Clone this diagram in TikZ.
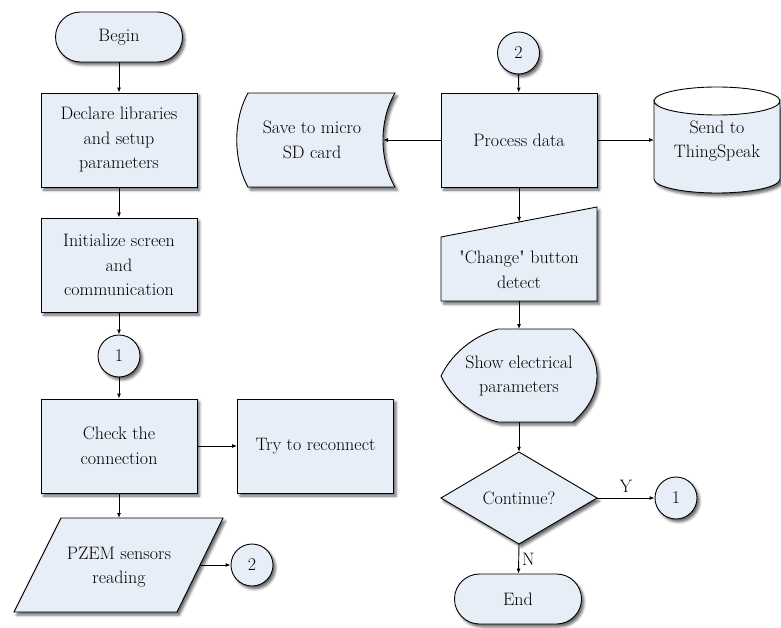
\documentclass[tikz,border=0pt]{standalone}
\usetikzlibrary{arrows.meta,shadows.blur}
\definecolor{boxfill}{RGB}{232,238,247}
\begin{document}
\begin{tikzpicture}[x=1pt,y=-1pt,
  every node/.style={font=\fontsize{18}{24.5}\selectfont, align=center, text=black},
  shp/.style={draw=black, line width=0.9pt, fill=boxfill,
    blur shadow={shadow xshift=2.5pt, shadow yshift=-3pt, shadow blur radius=2.5pt, shadow opacity=60}},
  procbox/.style={shp, rectangle, minimum width=156pt, minimum height=94pt, inner sep=2pt},
  termbox/.style={shp, rectangle, rounded corners=25pt, minimum width=127pt, minimum height=50pt},
  conn/.style={shp, circle, minimum size=42pt, inner sep=0pt},
  txt/.style={inner sep=0pt},
  arr/.style={draw=black, line width=0.9pt, -{Latex[length=5pt,width=4pt]}}]
\useasboundingbox (0,0) rectangle (781,628);

% left column
\node[termbox] (begin) at (119,37) {Begin};
\node[procbox] (declare) at (119,140) {Declare libraries\\and setup\\parameters};
\node[procbox] (init) at (119,265) {Initialize screen\\and\\communication};
\node[conn] (c1) at (119,356) {1};
\node[procbox] (check) at (119,446) {Check the\\connection};
\node[procbox] (try) at (315.5,446) {Try to reconnect};
\path[shp] (61,518) -- (223,518) -- (177,612) -- (14,612) -- cycle;
\node[txt] (pzem) at (119,567) {PZEM sensors\\reading};
\coordinate (pzemtop) at (119,518);
\coordinate (pzemr) at (200,565);
\node[conn] (c2b) at (252,565) {2};

% right column
\node[conn] (c2t) at (518.5,53) {2};
\node[procbox] (proc) at (519,140) {Process data};
\path[shp] (248,93) -- (395,93) .. controls (379,120) and (379,160) .. (395,187) -- (248,187)
  .. controls (233,160) and (233,120) .. (248,93) -- cycle;
\node[txt] (save) at (312,140) {Save to micro\\SD card};
\coordinate (saver) at (383,140);
\path[shp] (654,101) arc[start angle=180, end angle=360, x radius=63pt, y radius=14pt] -- (780,179)
  arc[start angle=0, end angle=-180, x radius=63pt, y radius=14pt] -- cycle;
\draw[line width=0.9pt] (654,101) arc[start angle=180, end angle=0, x radius=63pt, y radius=14pt];
\node[txt] (cloud) at (717,141) {Send to\\ThingSpeak};
\coordinate (cylw) at (654,140);
\path[shp] (441,237) -- (597,207) -- (597,301) -- (441,301) -- cycle;
\node[txt] (man) at (519,270) {\textquotedbl Change\textquotedbl{} button\\detect};
\coordinate (mantop) at (519,222);
\coordinate (manbot) at (519,301);
\path[shp] (498,329) -- (573,329) .. controls (590,345) and (597,360) .. (597,376)
  .. controls (597,392) and (590,407) .. (573,422) -- (498,422)
  .. controls (470,415) and (450,395) .. (441,376)
  .. controls (450,357) and (470,337) .. (498,329) -- cycle;
\node[txt] (disp) at (519,376) {Show electrical\\parameters};
\coordinate (disptop) at (519,329);
\coordinate (dispbot) at (519,422);
\path[shp] (519,452) -- (597,498) -- (519,544) -- (441,498) -- cycle;
\node[txt, minimum width=156pt, minimum height=92pt] (dec) at (519,498) {Continue?};
\node[conn] (c1r) at (676,498) {1};
\node[termbox] (end) at (518,599) {End};

% connectors
\draw[arr] (begin) -- (declare);
\draw[arr] (declare) -- (init);
\draw[arr] (init) -- (c1);
\draw[arr] (c1) -- (check);
\draw[arr] (check) -- (try);
\draw[arr] (check.south) -- (pzemtop);
\draw[arr] (pzemr) -- (c2b);
\draw[arr] (c2t) -- (proc);
\draw[arr] (proc) -- (saver);
\draw[arr] (proc) -- (cylw);
\draw[arr] (proc) -- (mantop);
\draw[arr] (manbot) -- (disptop);
\draw[arr] (dispbot) -- (dec.north);
\draw[arr] (dec.east) -- node[above, inner sep=5pt, pos=0.5] (ylab) {Y} (c1r);
\draw[arr] (dec.south) -- node[right, inner sep=3pt] (nlab) {N} (end);
\end{tikzpicture}
\end{document}
